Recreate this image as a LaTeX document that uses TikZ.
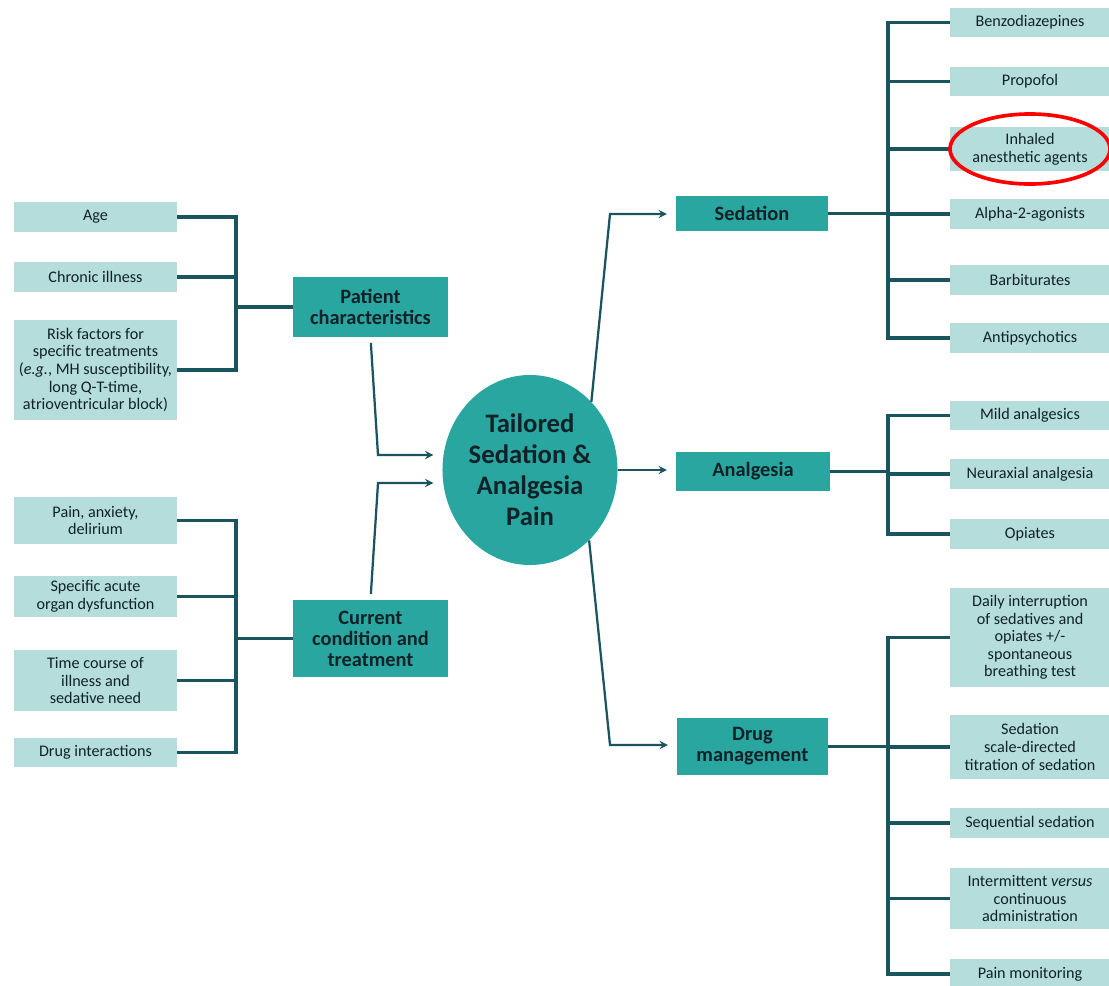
\documentclass[tikz,border=0pt]{standalone}
\usepackage{fontspec}
\setmainfont{Carlito}
\usetikzlibrary{shapes.geometric}
\definecolor{leafteal}{RGB}{180,221,219}
\definecolor{mainteal}{RGB}{42,166,160}
\definecolor{linkteal}{RGB}{26,84,94}
\definecolor{inkteal}{RGB}{16,34,40}
\tikzset{>=stealth}
\tikzstyle{every node}=[align=center]
\tikzset{
  leaf/.style={fill=leafteal, text=inkteal, inner sep=0pt, minimum width=4cm,
    font=\fontsize{11.5}{12.5}\selectfont},
  topic/.style={fill=mainteal, text=inkteal, inner sep=0pt, minimum width=3.85cm,
    font=\bfseries\fontsize{14.5}{15}\selectfont},
  core/.style={ellipse, fill=mainteal, text=inkteal, inner sep=0pt,
    minimum width=4.375cm, minimum height=4.75cm, font=\bfseries\fontsize{19}{22}\selectfont},
  branch/.style={draw=linkteal, line width=2.6pt},
  flow/.style={draw=linkteal, line width=1.6pt, ->, shorten >=0.22cm},
  ringred/.style={draw=red, line width=2.6pt}
}

\begin{document}
\begin{tikzpicture}[x=0.025cm,y=-0.025cm]

\useasboundingbox (0,0) rectangle (1109,985);
\clip (0,0) rectangle (1109,985);
\fill[white] (0,0) rectangle (1109,985);

% left column
\node[leaf, minimum width=4.075cm, minimum height=0.75cm] (age) at (95.5,217) {Age};
\node[leaf, minimum width=4.075cm, minimum height=0.75cm] (chronic) at (95.5,277) {Chronic illness};
\node[leaf, minimum width=4.075cm, minimum height=2.5cm] (risk) at (95.5,370) {Risk factors for\\specific treatments\\(\textit{e.g.}, MH susceptibility,\\long Q-T-time,\\atrioventricular block)};
\node[leaf, minimum width=4.075cm, minimum height=1.15cm] (pain) at (95.5,520.5) {Pain, anxiety,\\delirium};
\node[leaf, minimum width=4.075cm, minimum height=1.025cm] (organ) at (95.5,596.5) {Specific acute\\organ dysfunction};
\node[leaf, minimum width=4.075cm, minimum height=1.525cm] (course) at (95.5,680.5) {Time course of\\illness and\\sedative need};
\node[leaf, minimum width=4.075cm, minimum height=0.725cm] (interact) at (95.5,752.5) {Drug interactions};

\node[topic, minimum height=1.5cm] (patient) at (370.5,307) {Patient\\characteristics};
\node[topic, minimum height=1.925cm] (current) at (370.5,638.5) {Current\\condition and\\treatment};

\node[core] (hub) at (530,470) {Tailored\\Sedation \&\\Analgesia\\Pain};

\node[topic, minimum width=3.8cm, minimum height=0.875cm] (sedation) at (752,213.5) {Sedation};
\node[topic, minimum height=0.975cm] (analgesia) at (753,471.5) {Analgesia};
\node[topic, minimum width=3.775cm, minimum height=1.425cm] (drugs) at (752.5,746.5) {Drug\\management};

% right column
\node[leaf, minimum height=0.7cm] (benzo) at (1030,22.5) {Benzodiazepines};
\node[leaf, minimum height=0.725cm] (propofol) at (1030,81.5) {Propofol};
\node[leaf, minimum height=1.1cm] (inhaled) at (1030,149) {Inhaled\\anesthetic agents};
\node[leaf, minimum height=0.75cm] (alpha) at (1030,214) {Alpha-2-agonists};
\node[leaf, minimum height=0.75cm] (barbit) at (1030,280) {Barbiturates};
\node[leaf, minimum height=0.75cm] (antipsy) at (1030,338) {Antipsychotics};
\node[leaf, minimum height=0.725cm] (mild) at (1030,415.5) {Mild analgesics};
\node[leaf, minimum height=0.75cm] (neurax) at (1030,474) {Neuraxial analgesia};
\node[leaf, minimum height=0.75cm] (opiates) at (1030,534) {Opiates};
\node[leaf, minimum height=2.475cm] (daily) at (1030,637.5) {Daily interruption\\of sedatives and\\opiates +/-\\spontaneous\\breathing test};
\node[leaf, minimum height=1.6cm] (scale) at (1030,747) {Sedation\\scale-directed\\titration of sedation};
\node[leaf, minimum height=0.75cm] (sequential) at (1030,823) {Sequential sedation};
\node[leaf, minimum height=1.525cm] (intermit) at (1030,898.5) {Intermittent \textit{versus}\\continuous\\administration};
\node[leaf, minimum height=0.75cm] (monitor) at (1030,974) {Pain monitoring};

\coordinate (pcjoin) at (236,307);
\coordinate (ccjoin) at (236,638.5);
\coordinate (sedjoin) at (888,213.5);
\coordinate (anajoin) at (888,471.5);
\coordinate (drugjoin) at (888,746.5);
\coordinate (kneeA) at (378,455);
\coordinate (kneeB) at (378,483);
\coordinate (kneeC) at (610,214);
\coordinate (kneeD) at (610,745);

\draw[branch] (age.east) -- (age.east -| pcjoin) -- (risk.east -| pcjoin) -- (risk.east);
\draw[branch] (chronic.east) -- (chronic.east -| pcjoin);
\draw[branch] (pcjoin) -- (patient.west);

\draw[branch] (pain.east) -- (pain.east -| ccjoin) -- (interact.east -| ccjoin) -- (interact.east);
\draw[branch] (organ.east) -- (organ.east -| ccjoin);
\draw[branch] (course.east) -- (course.east -| ccjoin);
\draw[branch] (ccjoin) -- (current.west);

\draw[flow, shorten <=4pt] (patient.south) -- (kneeA) -- (kneeA -| hub.west);
\draw[flow, shorten <=4pt] (current.north) -- (kneeB) -- (kneeB -| hub.west);
\draw[flow] (hub.48) -- (kneeC) -- (kneeC -| sedation.west);
\draw[flow] (hub.east) -- (hub.east -| analgesia.west);
\draw[flow] (hub.-50) -- (kneeD) -- (kneeD -| drugs.west);

\draw[branch] (sedation.east) -- (sedjoin);
\draw[branch] (benzo.west) -- (benzo.west -| sedjoin) -- (antipsy.west -| sedjoin) -- (antipsy.west);
\draw[branch] (propofol.west) -- (propofol.west -| sedjoin);
\draw[branch] (inhaled.west) -- (inhaled.west -| sedjoin);
\draw[branch] (alpha.west) -- (alpha.west -| sedjoin);
\draw[branch] (barbit.west) -- (barbit.west -| sedjoin);

\draw[branch] (analgesia.east) -- (anajoin);
\draw[branch] (mild.west) -- (mild.west -| anajoin) -- (opiates.west -| anajoin) -- (opiates.west);
\draw[branch] (neurax.west) -- (neurax.west -| anajoin);

\draw[branch] (drugs.east) -- (drugjoin);
\draw[branch] (daily.west) -- (daily.west -| drugjoin) -- (monitor.west -| drugjoin) -- (monitor.west);
\draw[branch] (scale.west) -- (scale.west -| drugjoin);
\draw[branch] (sequential.west) -- (sequential.west -| drugjoin);
\draw[branch] (intermit.west) -- (intermit.west -| drugjoin);

\draw[ringred] (inhaled.center) ellipse [x radius=2cm, y radius=0.875cm];

\end{tikzpicture}
\end{document}
